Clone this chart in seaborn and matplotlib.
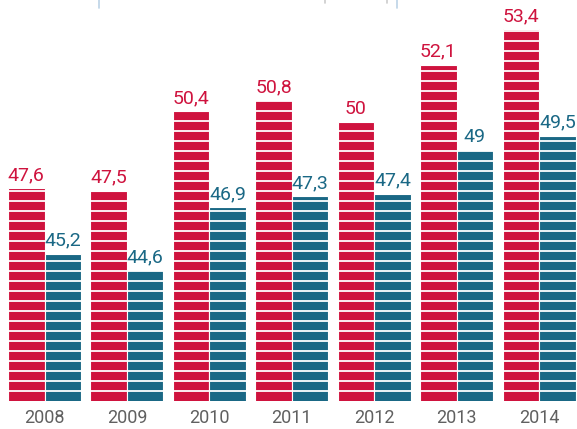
import numpy as np
import pandas as pd
import matplotlib
matplotlib.use("Agg")
import matplotlib.pyplot as plt
from matplotlib.lines import Line2D
import seaborn as sns

# datos
years = ["2008", "2009", "2010", "2011", "2012", "2013", "2014"]
serie_roja = [47.6, 47.5, 50.4, 50.8, 50.0, 52.1, 53.4]
serie_azul = [45.2, 44.6, 46.9, 47.3, 47.4, 49.0, 49.5]
series = ["A", "B"]

RED = "#cf133e"
TEAL = "#1a6885"

df = pd.DataFrame({
    "year": years * 2,
    "value": serie_roja + serie_azul,
    "serie": [series[0]] * len(years) + [series[1]] * len(years),
})

sns.set_style("white")
plt.rcParams["font.family"] = ["Roboto", "DejaVu Sans"]

fig = plt.figure(figsize=(5.77, 4.29), dpi=100)
ax = fig.add_axes([0, 28 / 429, 1, 401 / 429])

sns.barplot(data=df, x="year", y="value", hue="serie", order=years,
            hue_order=series, palette=[RED, TEAL], saturation=1,
            width=0.886, gap=0, edgecolor="white", linewidth=0.8,
            legend=False, ax=ax)

y0, y1 = 39.83, 54.46
ax.set_ylim(y0, y1)
ax.set_xlim(-0.54, 6.46)

# rayas blancas horizontales
for yy in np.arange(y0 + 0.365, y1, 0.365):
    ax.axhline(yy, color="white", lw=1.3, zorder=5)


def fmt(v):
    s = f"{v:.1f}".replace(".", ",")
    if s.endswith(",0"):
        s = s[:-2]
    return s


for container, color in zip(ax.containers, [RED, TEAL]):
    for bar in container:
        h = bar.get_height()
        ax.text(bar.get_x() + bar.get_width() / 2, h + 0.15, fmt(h),
                ha="center", va="bottom", fontsize=14, color=color, zorder=6)

ax.set_yticks([])
ax.set_xlabel("")
ax.set_ylabel("")
ax.tick_params(axis="x", length=0, pad=6, labelsize=13, labelcolor="#606060")
for s in ax.spines.values():
    s.set_visible(False)

# lineas finas arriba
for xp, c, h in [(99, "#bcd3e6", 8), (397, "#bcd3e6", 8), (325, "#cccccc", 3), (387, "#cccccc", 3)]:
    fig.add_artist(Line2D([xp / 577, xp / 577], [1, 1 - h / 429], color=c, lw=1.2))

fig.savefig("out.png", dpi=100)
